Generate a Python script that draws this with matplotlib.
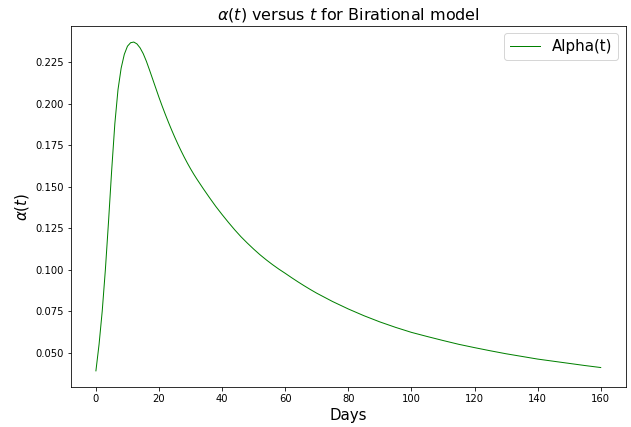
import matplotlib
matplotlib.use("Agg")
import matplotlib.pyplot as plt

# values
days = [0, 1, 2, 3, 4, 5, 6, 7, 8, 9, 10, 11, 12, 13, 14, 15, 16, 17, 18,
        19, 20, 21, 22, 23, 24, 25, 26, 27, 28, 29, 30, 31, 32, 34, 36, 38,
        40, 42, 44, 46, 48, 50, 52, 54, 56, 58, 60, 62, 64, 66, 68, 70, 75,
        80, 85, 90, 95, 100, 105, 110, 115, 120, 125, 130, 135, 140, 145,
        150, 155, 160]
alpha = [0.0390, 0.0550, 0.0750, 0.1000, 0.1290, 0.1600, 0.1880, 0.2085,
         0.2215, 0.2298, 0.2347, 0.2368, 0.2372, 0.2361, 0.2337, 0.2302,
         0.2256, 0.2203, 0.2148, 0.2093, 0.2038, 0.1986, 0.1936, 0.1888,
         0.1842, 0.1798, 0.1756, 0.1716, 0.1678, 0.1642, 0.1608, 0.1576,
         0.1546, 0.1489, 0.1434, 0.1381, 0.1332, 0.1285, 0.1240, 0.1198,
         0.1160, 0.1124, 0.1090, 0.1059, 0.1030, 0.1003, 0.0978, 0.0952,
         0.0927, 0.0903, 0.0880, 0.0858, 0.0808, 0.0763, 0.0722, 0.0685,
         0.0652, 0.0622, 0.0597, 0.0573, 0.0550, 0.0530, 0.0511, 0.0493,
         0.0477, 0.0461, 0.0448, 0.0435, 0.0422, 0.0410]

# 72 dpi so point sizes map to pixels one to one
fig = plt.figure(figsize=(631 / 72, 427 / 72), dpi=72)
ax = fig.add_axes([0.112, 0.093, 0.880, 0.847])

ax.plot(days, alpha, color="green", linewidth=1.0, label="Alpha(t)")
ax.set_title(r"$\alpha(t)$ versus $t$ for Birational model", fontsize=16)
ax.set_xlabel("Days", fontsize=15)
ax.set_ylabel(r"$\alpha(t)$", fontsize=15)
ax.tick_params(labelsize=10)
ax.legend(loc="upper right", fontsize=15)

fig.savefig("out.png", dpi=72)
